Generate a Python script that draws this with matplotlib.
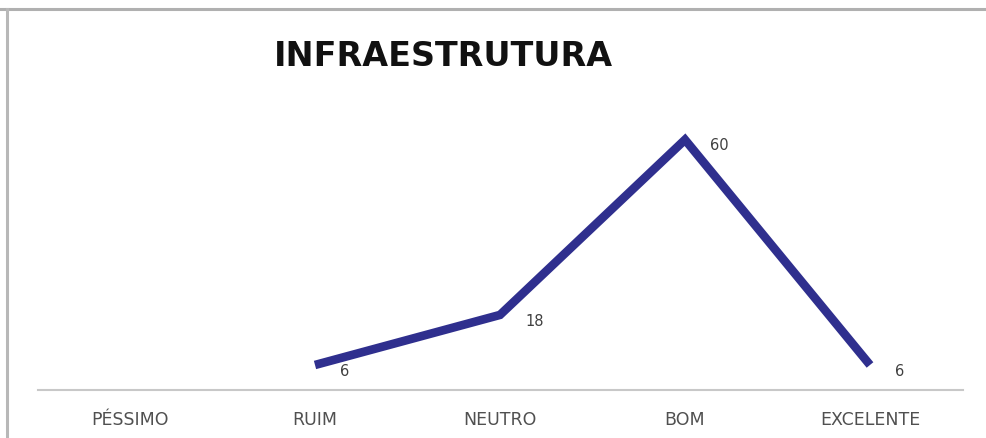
import numpy as np
import matplotlib
matplotlib.use("Agg")
import matplotlib.pyplot as plt
from matplotlib.lines import Line2D

categories = ["PÉSSIMO", "RUIM", "NEUTRO", "BOM", "EXCELENTE"]
values = [np.nan, 6, 18, 60, 6]
labels = ["", "6", "18", "60", "6"]
title = "INFRAESTRUTURA"

W, H, DPI = 986, 438, 100
fig = plt.figure(figsize=(W / DPI, H / DPI), dpi=DPI)
fig.patch.set_facecolor("white")

# frame borders (top and left)
fig.add_artist(Line2D([0, 1], [1 - 8.5 / H, 1 - 8.5 / H], color="#b0b0b0", lw=2.2, transform=fig.transFigure))
fig.add_artist(Line2D([6.5 / W, 6.5 / W], [0, 1 - 8.5 / H], color="#b8b8b8", lw=2.2, transform=fig.transFigure))

left = 37.5 / W
right = 962.5 / W
bottom = 48 / H
top = 98 / H
ax = fig.add_axes([left, bottom, right - left, 1 - top - bottom])
ax.set_facecolor("none")

x = np.arange(len(categories))
ax.plot(x, values, color="#2f2f8e", lw=6.2, solid_joinstyle="miter", solid_capstyle="butt")

for xi, v, lab in zip(x, values, labels):
    if lab:
        ax.annotate(lab, (xi, v), xytext=(18, -4.5), textcoords="offset points",
                    ha="left", va="center", fontsize=10.5, color="#404040")

ax.set_xlim(-0.5, len(categories) - 0.5)
ax.set_ylim(0, 70)
ax.set_xticks(x)
ax.set_xticklabels(categories, fontsize=12.5, color="#505050")
ax.tick_params(axis="x", length=0, pad=15)
ax.set_yticks([])
for s in ["top", "right", "left"]:
    ax.spines[s].set_visible(False)
ax.spines["bottom"].set_color("#c8c8c8")
ax.spines["bottom"].set_linewidth(1.5)

fig.text(443 / W, 1 - 56 / H, title, ha="center", va="center",
         fontsize=24, fontweight="bold", color="#111111", family="DejaVu Sans")

fig.savefig("out.png", dpi=DPI)
